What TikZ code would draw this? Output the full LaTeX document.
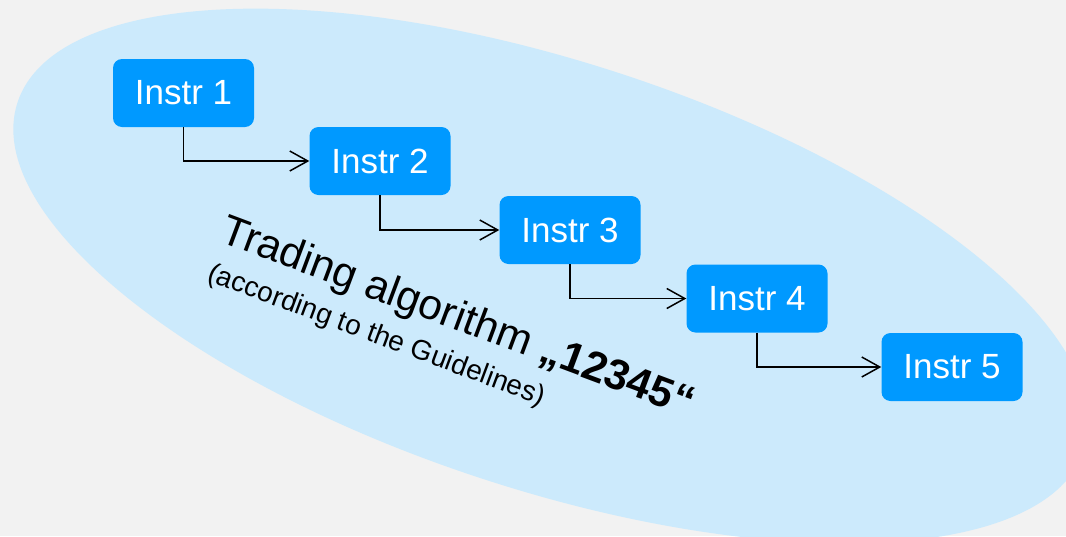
\documentclass[tikz,border=0pt]{standalone}
\usepackage{fontspec}
\setmainfont{Liberation Sans}
\usetikzlibrary{arrows.meta}

\definecolor{fondo}{HTML}{F2F2F2}
\definecolor{nube}{HTML}{CCEAFC}
\definecolor{caja}{HTML}{0099FF}

\tikzset{
    instr/.style={fill=caja, text=white, rounded corners=9pt,
        minimum width=141pt, minimum height=68pt, inner sep=0pt,
        font=\fontsize{35}{40}\selectfont},
    flow/.style={-{Straight Barb[length=18pt,width=20pt]}, line width=1.5pt},
    lema/.style={rotate=-20.5, anchor=base west, inner sep=0pt}
}

\begin{document}
\begin{tikzpicture}[x=1pt, y=-1pt]

    % Fondo
    \clip (0,0) rectangle (1066,536);
    \fill[fondo] (0,0) rectangle (1066,536);

    % Elipse
    \fill[nube, rotate around={-18:(551,276)}] (551,276) ellipse [x radius=561pt, y radius=214pt];

    % Instrucciones
    \node[instr] (I1) at (183.5,93) {Instr 1};
    \node[instr] (I2) at (380,161) {Instr 2};
    \node[instr] (I3) at (570,230) {Instr 3};
    \node[instr] (I4) at (757,298.5) {Instr 4};
    \node[instr] (I5) at (952,367) {Instr 5};

    % Flechas
    \draw[flow] (I1.south) |- (I2.west);
    \draw[flow] (I2.south) |- (I3.west);
    \draw[flow] (I3.south) |- (I4.west);
    \draw[flow] (I4.south) |- (I5.west);

    % Texto
    \node[lema, font=\fontsize{42.5}{50}\selectfont] (T) at (218,241) {Trading algorithm \textbf{„12345“}};
    \node[lema, font=\fontsize{28}{34}\selectfont] (G) at (206,280) {(according to the Guidelines)};

\end{tikzpicture}
\end{document}
